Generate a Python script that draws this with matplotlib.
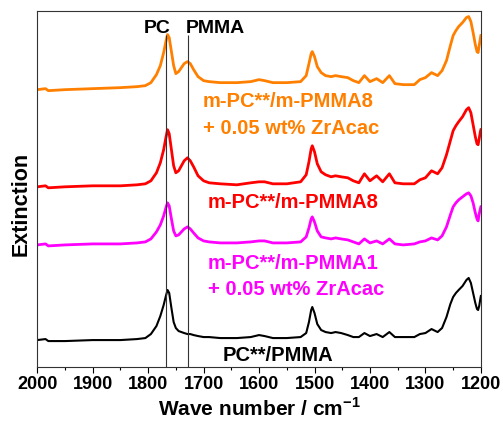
import matplotlib.pyplot as plt
import matplotlib.ticker as ticker

plt.rcParams['font.family'] = ['Liberation Sans', 'DejaVu Sans']
plt.rcParams['font.weight'] = 'bold'
plt.rcParams['axes.labelweight'] = 'bold'
plt.rcParams['mathtext.fontset'] = 'custom'
plt.rcParams['mathtext.rm'] = 'Liberation Sans:bold'
plt.rcParams['mathtext.bf'] = 'Liberation Sans:bold'

# Wave numbers (cm-1) shared by all spectra
wavenumber = [2000, 1985, 1980, 1950, 1900, 1850, 1820, 1805, 1795, 1785,
              1778, 1772, 1768, 1765, 1762, 1758, 1754, 1750, 1745, 1740,
              1735, 1729, 1724, 1718, 1710, 1700, 1690, 1670, 1640, 1615,
              1600, 1590, 1575, 1550, 1525, 1515, 1510, 1506, 1504, 1500,
              1495, 1488, 1480, 1470, 1462, 1452, 1440, 1430, 1420, 1410,
              1400, 1388, 1377, 1365, 1355, 1340, 1320, 1310, 1300, 1289,
              1278, 1270, 1262, 1255, 1250, 1245, 1240, 1233, 1226, 1222,
              1218, 1214, 1210, 1207, 1205, 1203, 1201, 1200]

# Extinction (a.u., stacked)
ext_pc_pmma = [0.27, 0.28, 0.26, 0.26, 0.27, 0.27, 0.28, 0.29, 0.33, 0.41,
               0.51, 0.62, 0.71, 0.77, 0.74, 0.59, 0.45, 0.39, 0.36, 0.35,
               0.34, 0.33, 0.33, 0.32, 0.31, 0.30, 0.30, 0.29, 0.29, 0.30,
               0.32, 0.31, 0.29, 0.29, 0.30, 0.34, 0.45, 0.57, 0.60, 0.54,
               0.43, 0.37, 0.35, 0.34, 0.35, 0.34, 0.32, 0.30, 0.30, 0.34,
               0.31, 0.33, 0.30, 0.35, 0.30, 0.30, 0.30, 0.33, 0.34, 0.38,
               0.35, 0.39, 0.50, 0.63, 0.70, 0.74, 0.77, 0.81, 0.87, 0.89,
               0.84, 0.74, 0.64, 0.58, 0.57, 0.61, 0.68, 0.71]

ext_pmma1_zr = [1.22, 1.23, 1.21, 1.22, 1.23, 1.23, 1.24, 1.25, 1.28, 1.35,
                1.42, 1.51, 1.59, 1.64, 1.61, 1.48, 1.36, 1.31, 1.32, 1.35,
                1.38, 1.40, 1.38, 1.34, 1.29, 1.26, 1.25, 1.24, 1.24, 1.25,
                1.26, 1.26, 1.24, 1.24, 1.25, 1.30, 1.39, 1.48, 1.50, 1.45,
                1.36, 1.30, 1.29, 1.28, 1.29, 1.28, 1.27, 1.25, 1.23, 1.28,
                1.24, 1.26, 1.23, 1.28, 1.23, 1.22, 1.23, 1.25, 1.26, 1.29,
                1.27, 1.31, 1.40, 1.52, 1.60, 1.64, 1.67, 1.70, 1.73, 1.74,
                1.71, 1.64, 1.54, 1.48, 1.46, 1.53, 1.58, 1.60]

ext_pmma8 = [1.80, 1.81, 1.79, 1.80, 1.81, 1.81, 1.82, 1.83, 1.86, 1.94,
             2.04, 2.17, 2.29, 2.37, 2.33, 2.17, 2.01, 1.94, 1.96, 2.01,
             2.06, 2.09, 2.06, 2.00, 1.91, 1.86, 1.84, 1.83, 1.82, 1.84,
             1.85, 1.85, 1.83, 1.83, 1.85, 1.92, 2.05, 2.18, 2.21, 2.15,
             2.03, 1.95, 1.92, 1.90, 1.91, 1.90, 1.89, 1.86, 1.84, 1.93,
             1.86, 1.91, 1.85, 1.93, 1.84, 1.83, 1.83, 1.87, 1.89, 1.96,
             1.93, 1.99, 2.12, 2.26, 2.36, 2.41, 2.45, 2.50, 2.57, 2.59,
             2.54, 2.42, 2.30, 2.23, 2.22, 2.28, 2.35, 2.37]

ext_pmma8_zr = [2.77, 2.78, 2.76, 2.77, 2.78, 2.79, 2.80, 2.81, 2.84, 2.92,
                3.01, 3.14, 3.25, 3.32, 3.29, 3.15, 3.01, 2.93, 2.95, 2.99,
                3.03, 3.05, 3.03, 2.97, 2.90, 2.86, 2.85, 2.84, 2.84, 2.85,
                2.87, 2.86, 2.84, 2.84, 2.85, 2.91, 3.03, 3.13, 3.15, 3.10,
                3.00, 2.94, 2.91, 2.90, 2.91, 2.90, 2.89, 2.86, 2.84, 2.91,
                2.85, 2.88, 2.84, 2.91, 2.83, 2.82, 2.82, 2.87, 2.89, 2.94,
                2.91, 2.96, 3.06, 3.21, 3.31, 3.36, 3.40, 3.44, 3.49, 3.50,
                3.45, 3.34, 3.22, 3.15, 3.14, 3.21, 3.28, 3.31]

# C=O band positions
band_pc = 1768
band_pmma = 1729

fig = plt.figure(figsize=(5.03, 4.21), dpi=100)
ax = fig.add_axes([0.074, 0.128, 0.882, 0.847])

ax.plot(wavenumber, ext_pc_pmma, color='black', lw=1.5)
ax.plot(wavenumber, ext_pmma1_zr, color='#FF00FF', lw=2.0)
ax.plot(wavenumber, ext_pmma8, color='#FF0000', lw=2.0)
ax.plot(wavenumber, ext_pmma8_zr, color='#FF8000', lw=2.0)

ax.vlines([band_pc, band_pmma], 0, 3.32, color='#333333', lw=0.8)

ax.text(band_pc - 8, 3.38, 'PC', ha='right', va='center', fontsize=14, color='black')
ax.text(band_pmma + 3, 3.38, 'PMMA', ha='left', va='center', fontsize=14, color='black')

fs = 14.5
ax.text(1701, 2.65, 'm-PC**/m-PMMA8', ha='left', va='center', fontsize=fs, color='#FF8000')
ax.text(1701, 2.38, '+ 0.05 wt% ZrAcac', ha='left', va='center', fontsize=fs, color='#FF8000')
ax.text(1692, 1.64, 'm-PC**/m-PMMA8', ha='left', va='center', fontsize=fs, color='#FF0000')
ax.text(1692, 1.03, 'm-PC**/m-PMMA1', ha='left', va='center', fontsize=fs, color='#FF00FF')
ax.text(1692, 0.77, '+ 0.05 wt% ZrAcac', ha='left', va='center', fontsize=fs, color='#FF00FF')
ax.text(1665, 0.12, 'PC**/PMMA', ha='left', va='center', fontsize=fs, color='black')

ax.set_xlim(2000, 1200)
ax.set_ylim(0, 3.56)
ax.xaxis.set_major_locator(ticker.MultipleLocator(100))
ax.xaxis.set_minor_locator(ticker.MultipleLocator(50))
ax.tick_params(axis='x', which='major', direction='out', length=4.5, width=0.8,
               labelsize=13, pad=2, top=False)
ax.tick_params(axis='x', which='minor', direction='out', length=2.5, width=0.8, top=False)
ax.set_yticks([])

for spine in ax.spines.values():
    spine.set_color('#333333')
    spine.set_linewidth(0.8)

ax.set_xlabel(r'Wave number / cm$^{\mathbf{-1}}$', fontsize=15)
ax.xaxis.set_label_coords(0.5, -0.085)
ax.set_ylabel('Extinction', fontsize=15.5)
ax.yaxis.set_label_coords(-0.012, 0.458)

plt.savefig('out.png', dpi=100)
